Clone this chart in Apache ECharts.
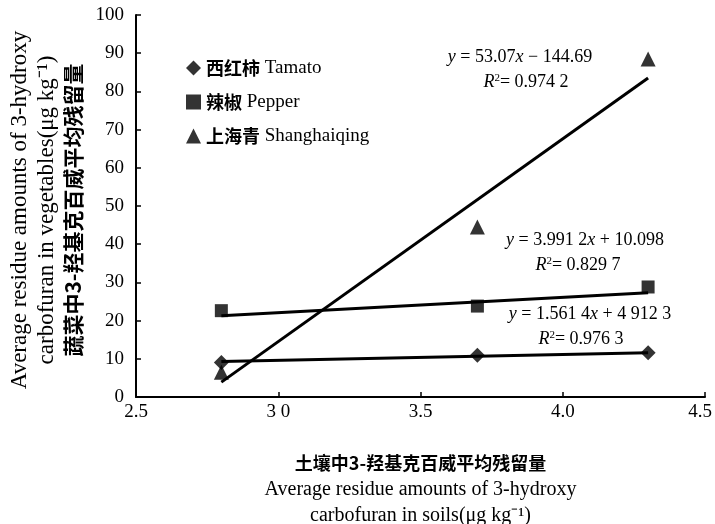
<!DOCTYPE html>
<html><head><meta charset="utf-8">
<script src="https://cdn.jsdelivr.net/npm/echarts@6/dist/echarts.min.js"></script>
<style>html,body{margin:0;padding:0;background:#fff}#c{width:715px;height:524px}</style>
</head><body><div id="c"></div>
<script>
// ---- data ----
var soilX = [2.8, 3.7, 4.3];
var tomato = [9.0, 10.9, 11.6];
var pepper = [22.6, 23.8, 28.8];
var shanghaiqing = [6.5, 44.5, 88.5];
var fitX = [2.8, 4.3];
var tomatoFit = [9.3, 11.6];
var pepperFit = [21.3, 27.3];
var shanghaiqingFit = [3.9, 83.5];
var xTickLabels = ['2.5', '3 0', '3.5', '4.0', '4.5'];
var seriesZh = ['西红柿', '辣椒', '上海青'];
var seriesEn = ['Tamato', 'Pepper', 'Shanghaiqing'];
var seriesNames = seriesZh.map(function (z, i) { return z + ' ' + seriesEn[i]; });

var FONT = '"Liberation Serif", "Times New Roman", "Noto Sans CJK SC", serif';
var CJK = '"Noto Sans CJK SC", "Liberation Serif", serif';

function pairs(xs, ys) { return xs.map(function (x, i) { return [x, ys[i]]; }); }

var chart = echarts.init(document.getElementById('c'));
var lineStyle = { color: '#000', width: 3 };
chart.setOption({
  animation: false,
  backgroundColor: '#fff',
  textStyle: { fontFamily: FONT, color: '#000' },
  grid: { left: 136, right: 10, top: 15, bottom: 127, containLabel: false, outerBoundsMode: 'none' },
  legend: {
    orient: 'vertical', left: 181, top: 53, itemWidth: 15, itemHeight: 15, itemGap: 14,
    data: [
      { name: seriesNames[0], icon: 'diamond' },
      { name: seriesNames[1], icon: 'rect' },
      { name: seriesNames[2], icon: 'triangle' }
    ],
    formatter: function (n) {
      var i = seriesNames.indexOf(n);
      return '{zh|' + seriesZh[i] + '} {en|' + seriesEn[i] + '}';
    },
    textStyle: {
      fontFamily: FONT, fontSize: 19, color: '#000', lineHeight: 20,
      rich: {
        zh: { fontFamily: CJK, fontWeight: 'bold', fontSize: 18, color: '#000', lineHeight: 20 },
        en: { fontFamily: FONT, fontSize: 19, color: '#000', lineHeight: 20 }
      }
    }
  },
  xAxis: {
    type: 'value', min: 2.5, max: 4.5, interval: 0.5,
    axisLine: { lineStyle: { color: '#000', width: 2 } },
    axisTick: { inside: true, length: 5, lineStyle: { color: '#000', width: 1.5 } },
    splitLine: { show: false },
    axisLabel: {
      color: '#000', fontSize: 19, fontFamily: FONT, margin: 6,
      formatter: function (v) {
        var i = Math.round((v - 2.5) / 0.5);
        return i === xTickLabels.length - 1 ? '{last|' + xTickLabels[i] + '}' : xTickLabels[i];
      },
      rich: { last: { fontSize: 19, fontFamily: FONT, color: '#000', padding: [0, 10, 0, 0] } }
    },
    name: '{zh|土壤中3-羟基克百威平均残留量}\n{en|Average residue amounts of 3-hydroxy}\n{en|carbofuran in soils(μg kg⁻¹)}',
    nameLocation: 'middle', nameGap: 52,
    nameTextStyle: {
      rich: {
        zh: { fontFamily: CJK, fontWeight: 'bold', fontSize: 18, lineHeight: 28, color: '#000' },
        en: { fontFamily: FONT, fontSize: 20, lineHeight: 26, color: '#000' }
      }
    }
  },
  yAxis: {
    type: 'value', min: 0, max: 100, interval: 10,
    axisLine: { show: true, lineStyle: { color: '#000', width: 2 } },
    axisTick: { show: true, inside: true, length: 5, lineStyle: { color: '#000', width: 1.5 } },
    splitLine: { show: false },
    axisLabel: { color: '#000', fontSize: 19, fontFamily: FONT, margin: 12 },
    name: '{en|Average residue amounts of 3-hydroxy}\n{en|carbofuran in vegetables(μg kg⁻¹)}\n{zh|蔬菜中3-羟基克百威平均残留量}',
    nameLocation: 'middle', nameRotate: 90, nameGap: 50,
    nameTextStyle: {
      padding: [0, 8, 0, 0],
      rich: {
        zh: { fontFamily: CJK, fontWeight: 'bold', fontSize: 21, lineHeight: 26, color: '#000' },
        en: { fontFamily: FONT, fontSize: 23, lineHeight: 27, color: '#000' }
      }
    }
  },
  series: [
    { name: seriesNames[0], type: 'scatter', symbol: 'diamond', symbolSize: 15, itemStyle: { color: '#000' }, data: pairs(soilX, tomato), z: 5 },
    { name: seriesNames[1], type: 'scatter', symbol: 'rect', symbolSize: 13, itemStyle: { color: '#000' }, data: pairs(soilX, pepper), z: 5 },
    { name: seriesNames[2], type: 'scatter', symbol: 'triangle', symbolSize: 15, itemStyle: { color: '#000' }, data: pairs(soilX, shanghaiqing), z: 5 },
    { name: 'fit1', type: 'line', showSymbol: false, symbol: 'none', lineStyle: lineStyle, data: pairs(fitX, tomatoFit) },
    { name: 'fit2', type: 'line', showSymbol: false, symbol: 'none', lineStyle: lineStyle, data: pairs(fitX, pepperFit) },
    { name: 'fit3', type: 'line', showSymbol: false, symbol: 'none', lineStyle: lineStyle, data: pairs(fitX, shanghaiqingFit) }
  ],
  graphic: (function () {
    function eq(cx, cy, text) {
      return {
        type: 'text', x: cx, y: cy,
        style: {
          text: text, align: 'center', verticalAlign: 'middle',
          font: '18px ' + FONT, fill: '#000',
          rich: {
            i: { fontStyle: 'italic', fontFamily: FONT, fontSize: 18, fill: '#000' },
            s: { fontFamily: FONT, fontSize: 11, verticalAlign: 'top', fill: '#000', padding: [0, 0, 8, 0] }
          }
        }
      };
    }
    return [
      eq(520, 57, '{i|y} = 53.07{i|x} − 144.69'),
      eq(526, 82, '{i|R}{s|2}= 0.974 2'),
      eq(585, 240, '{i|y} = 3.991 2{i|x} + 10.098'),
      eq(578, 265, '{i|R}{s|2}= 0.829 7'),
      eq(590, 314, '{i|y} = 1.561 4{i|x} + 4 912 3'),
      eq(581, 339, '{i|R}{s|2}= 0.976 3')
    ];
  })()
});
</script>
</body></html>
